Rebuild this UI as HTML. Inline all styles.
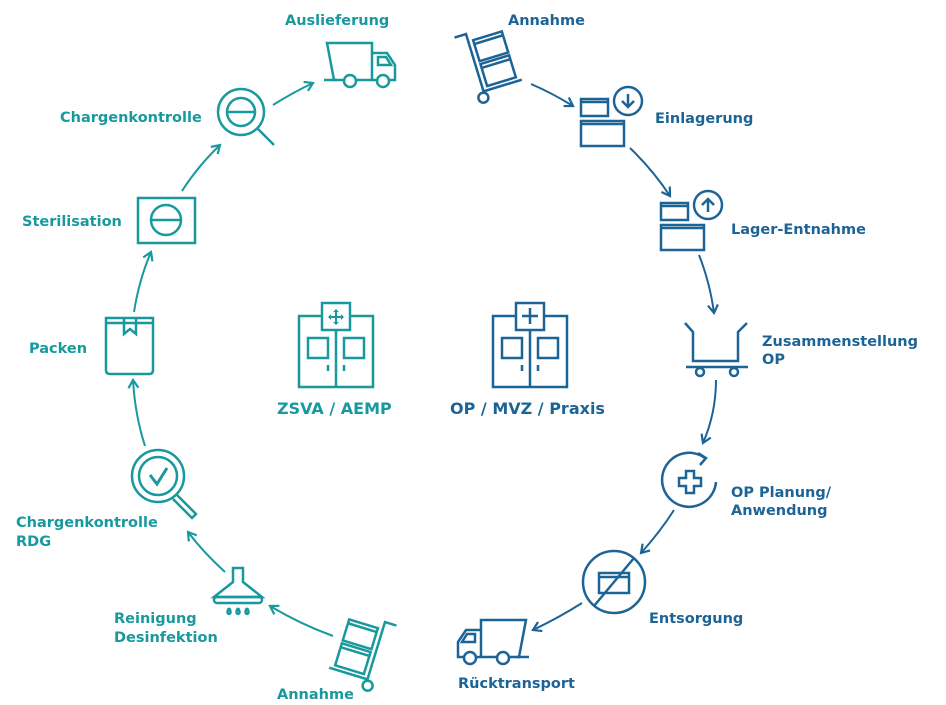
<!DOCTYPE html>
<html><head><meta charset="utf-8"><style>
html,body{margin:0;padding:0;background:#fff;}
svg{display:block;}
text{font-family:"DejaVu Sans","Liberation Sans",sans-serif;font-weight:bold;font-size:14.5px;}
.t{fill:#17999e;}
.b{fill:#1d6496;}
</style></head><body>
<svg width="946" height="705" viewBox="0 0 946 705" xmlns="http://www.w3.org/2000/svg">
<defs>
<marker id="at" markerWidth="12" markerHeight="12" refX="9" refY="6" orient="auto" markerUnits="userSpaceOnUse"><path d="M1,1 L9,6 L1,11" fill="none" stroke="#17999e" stroke-width="2.2"/></marker>
<marker id="ab" markerWidth="12" markerHeight="12" refX="9" refY="6" orient="auto" markerUnits="userSpaceOnUse"><path d="M1,1 L9,6 L1,11" fill="none" stroke="#1d6496" stroke-width="2.2"/></marker>
<g id="trolley" fill="none" stroke-width="2.5">
<path d="M-12,0 L0,0 L0,60 L40,60"/><circle cx="-2" cy="66" r="5"/>
<rect x="5" y="8" width="30" height="22"/><line x1="5" y1="12" x2="35" y2="12"/>
<rect x="5" y="33" width="30" height="23"/><line x1="5" y1="37" x2="35" y2="37"/>
</g>
<g id="truck" fill="none" stroke-width="2.5">
<path d="M0,0 L45,0 L45,37 L7,37 Z"/><path d="M45,10 L60,10 L68,22 L68,37 L45,37"/>
<path d="M51,14 L59,14 L64,22 L51,22 Z"/><line x1="-3" y1="37" x2="10" y2="37"/>
<circle cx="23" cy="38" r="6" fill="#fff"/><circle cx="56" cy="38" r="6" fill="#fff"/>
</g>
<g id="bldg" fill="none" stroke-width="2.5">
<rect x="0" y="13" width="74" height="71"/><line x1="37" y1="13" x2="37" y2="84"/>
<rect x="23" y="0" width="28" height="27" fill="#fff"/>
<rect x="9" y="35" width="20" height="20"/><rect x="45" y="35" width="20" height="20"/>
<line x1="29" y1="62" x2="29" y2="68"/><line x1="45" y1="62" x2="45" y2="68"/>
</g>
</defs>

<!-- TEAL -->
<g stroke="#17999e" fill="none" stroke-width="2.5">
<use href="#truck" x="327" y="43" stroke="#17999e"/>
<path d="M273,105 Q292,93 313,83" marker-end="url(#at)" stroke-width="2"/>
<circle cx="241" cy="112" r="23"/><circle cx="241" cy="112" r="14"/><line x1="227" y1="112" x2="255" y2="112"/>
<line x1="258" y1="129" x2="274" y2="145"/>
<path d="M182,191 Q198,166 220,145" marker-end="url(#at)" stroke-width="2"/>
<rect x="138" y="198" width="57" height="45"/><circle cx="166" cy="220" r="15"/><line x1="151" y1="220" x2="181" y2="220"/>
<path d="M134,312 Q139,280 151,252" marker-end="url(#at)" stroke-width="2"/>
<path d="M106,318 L153,318 L153,370 Q153,374 149,374 L110,374 Q106,374 106,370 Z"/>
<line x1="106" y1="323" x2="153" y2="323"/><path d="M124,318 L124,334 L130,329 L136,334 L136,318"/>
<path d="M145,446 Q135,415 133,380" marker-end="url(#at)" stroke-width="2"/>
<circle cx="158" cy="476" r="26"/><circle cx="158" cy="476" r="19"/>
<path d="M150,475 L157,484 L167,468" stroke-width="3"/>
<path d="M177,495 L196,514 L192,518 L173,499"/>
<path d="M225,572 Q203,552 188,532" marker-end="url(#at)" stroke-width="2"/>
<path d="M233,568 L243,568 L243,582 L262,597 L214,597 L233,582 Z"/>
<rect x="214" y="597" width="48" height="6" rx="3"/>
<path d="M229,608 q-3,5 0,6 q3,-1 0,-6 M238,608 q-3,5 0,6 q3,-1 0,-6 M247,608 q-3,5 0,6 q3,-1 0,-6"/>
<path d="M333,636 Q300,624 270,606" marker-end="url(#at)" stroke-width="2"/>
<use href="#trolley" transform="translate(385,622) scale(-1,1) rotate(-17)" stroke="#17999e"/>
<use href="#bldg" x="299" y="303" stroke="#17999e"/>
</g>
<g fill="#17999e">
<path d="M336,309 l3,3 h-2 v4 h4 v-2 l3,3 -3,3 v-2 h-4 v4 h2 l-3,3 -3,-3 h2 v-4 h-4 v2 l-3,-3 3,-3 v2 h4 v-4 h-2 z"/>
</g>
<text class="t" x="285" y="25">Auslieferung</text>
<text class="t" x="60" y="122">Chargenkontrolle</text>
<text class="t" x="22" y="226">Sterilisation</text>
<text class="t" x="29" y="353">Packen</text>
<text class="t" x="16" y="527">Chargenkontrolle</text>
<text class="t" x="16" y="546">RDG</text>
<text class="t" x="114" y="623">Reinigung</text>
<text class="t" x="114" y="642">Desinfektion</text>
<text class="t" x="277" y="699">Annahme</text>
<text class="t" x="277" y="414" style="font-size:16px">ZSVA / AEMP</text>

<!-- BLUE -->
<g stroke="#1d6496" fill="none" stroke-width="2.5">
<use href="#trolley" transform="translate(466,34) rotate(-17)" stroke="#1d6496"/>
<path d="M531,84 Q552,93 573,106" marker-end="url(#ab)" stroke-width="2"/>
<rect x="581" y="99" width="27" height="17"/><line x1="581" y1="102" x2="608" y2="102"/>
<rect x="581" y="121" width="43" height="25"/><line x1="581" y1="124" x2="624" y2="124"/>
<circle cx="628" cy="101" r="14"/><path d="M628,94 L628,107 M622,101 L628,107 L634,101"/>
<path d="M630,148 Q653,170 670,196" marker-end="url(#ab)" stroke-width="2"/>
<rect x="661" y="203" width="27" height="17"/><line x1="661" y1="206" x2="688" y2="206"/>
<rect x="661" y="225" width="43" height="25"/><line x1="661" y1="228" x2="704" y2="228"/>
<circle cx="708" cy="205" r="14"/><path d="M708,212 L708,199 M702,205 L708,199 L714,205"/>
<path d="M699,255 Q710,283 714,313" marker-end="url(#ab)" stroke-width="2"/>
<path d="M685,323 L693,332 L693,361 L738,361 L738,332 L747,323"/>
<line x1="686" y1="367" x2="748" y2="367"/><circle cx="700" cy="372" r="4"/><circle cx="734" cy="372" r="4"/>
<path d="M716,380 Q716,413 703,443" marker-end="url(#ab)" stroke-width="2"/>
<path d="M716,482 A27,27 0 1 1 705,458"/><path d="M698,453 L706,458 L700,465"/>
<path d="M686,471 h8 v7 h7 v8 h-7 v7 h-8 v-7 h-7 v-8 h7 z"/>
<path d="M674,510 Q660,532 641,553" marker-end="url(#ab)" stroke-width="2"/>
<circle cx="614" cy="582" r="31"/><rect x="599" y="573" width="30" height="20"/><line x1="599" y1="577" x2="629" y2="577"/>
<line x1="594" y1="606" x2="634" y2="558"/>
<path d="M582,603 Q560,617 533,630" marker-end="url(#ab)" stroke-width="2"/>
<use href="#truck" transform="translate(526,620) scale(-1,1)" stroke="#1d6496"/>
<use href="#bldg" x="493" y="303" stroke="#1d6496"/>
<path d="M530,308 v16 M522,316 h16"/>
</g>
<text class="b" x="508" y="25">Annahme</text>
<text class="b" x="655" y="123">Einlagerung</text>
<text class="b" x="731" y="234">Lager-Entnahme</text>
<text class="b" x="762" y="346">Zusammenstellung</text>
<text class="b" x="762" y="364">OP</text>
<text class="b" x="731" y="497">OP Planung/</text>
<text class="b" x="731" y="515">Anwendung</text>
<text class="b" x="649" y="623">Entsorgung</text>
<text class="b" x="458" y="688">Rücktransport</text>
<text class="b" x="450" y="414" style="font-size:16px">OP / MVZ / Praxis</text>
</svg>
</body></html>
